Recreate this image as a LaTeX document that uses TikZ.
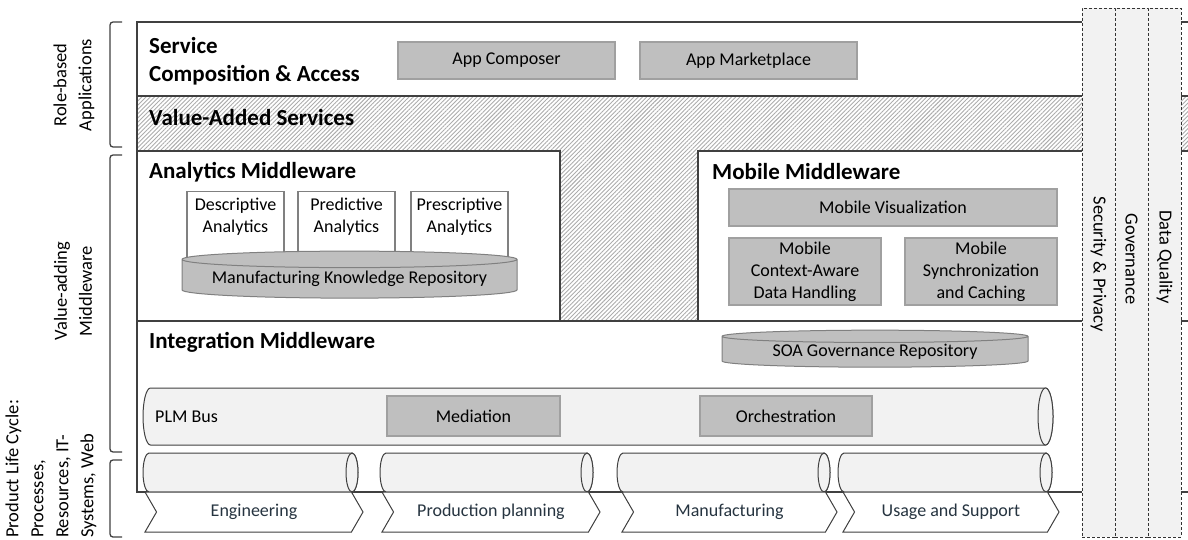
\documentclass[tikz,border=0pt]{standalone}
\usepackage{fontspec}
\setmainfont{Carlito}
\usetikzlibrary{shapes.geometric,shapes.symbols,patterns.meta,positioning}

\definecolor{boxgray}{RGB}{191,191,191}
\definecolor{boxedge}{RGB}{160,160,160}
\definecolor{pipegray}{RGB}{242,242,242}
\definecolor{linegray}{RGB}{64,64,64}
\definecolor{chevtext}{RGB}{38,52,64}

\newcommand\smalltxt{\fontsize{18}{22}\selectfont}
\newcommand\headtxt{\fontsize{23}{28}\selectfont\bfseries}
\newcommand\sidetxt{\fontsize{18.5}{25}\selectfont}

\tikzset{
  frame/.style={draw=linegray,line width=1.3pt},
  hatch/.style={fill=gray!18,pattern={Lines[angle=45,distance=3pt,line width=0.9pt]},pattern color=gray!65},
  graybox/.style={draw=boxedge,fill=boxgray,line width=1.1pt,font=\smalltxt,inner sep=0pt,align=center},
  whitebox/.style={draw=gray,fill=white,line width=1.1pt,inner sep=0pt},
  txt/.style={font=\smalltxt,align=center,inner sep=0pt},
  head/.style={font=\headtxt,anchor=west,align=left,inner sep=0pt},
  pipe/.style={draw=linegray,fill=pipegray,line width=1pt},
  repo/.style={cylinder,shape border rotate=90,draw=gray,fill=boxgray,line width=1pt,aspect=0.06,font=\smalltxt,inner sep=0pt},
  chev/.style={signal,signal from=west,signal to=east,signal pointer angle=120,draw=linegray,fill=white,line width=1pt,font=\smalltxt,text=chevtext,minimum height=40,inner sep=0pt},
  bar/.style={draw=black!80,densely dashed,fill=pipegray,line width=0.8pt,minimum width=33,minimum height=529,inner sep=0pt},
  side/.style={font=\sidetxt,rotate=90,align=center,inner sep=0pt},
  brack/.style={draw=linegray,line width=1.3pt,rounded corners=3pt}
}

\begin{document}
\begin{tikzpicture}[x=1pt,y=-1pt]
  \useasboundingbox (0,0) rectangle (1188,540);

  % layers
  \fill[hatch] (137,96) rectangle (1200,321);
  \fill[white] (137,22) rectangle (1200,96);
  \fill[white] (137,151) rectangle (560,321);
  \fill[white] (698,151) rectangle (1200,321);
  \draw[frame] (1200,22) -- (137,22) -- (137,492) -- (1200,492);
  \draw[frame] (137,96) -- (1200,96);
  \draw[frame] (137,151) -- (560,151) -- (560,321);
  \draw[frame] (1200,151) -- (698,151) -- (698,321);
  \draw[frame] (137,321) -- (1200,321);

  % service composition
  \node[head] (svc) at (149,61) {Service\\Composition \& Access};
  \node[graybox,minimum width=217,minimum height=37] (compose) at (506.5,60.5) {App Composer};
  \node[graybox,minimum width=217,minimum height=37] (market) at (748.5,60.5) {App Marketplace};
  \node[head] (vas) at (149,118) {Value-Added Services};

  % analytics
  \node[head] (ana) at (149,172) {Analytics Middleware};
  \node[whitebox,minimum width=97,minimum height=72,anchor=north] (desc) at (235.5,191) {};
  \node[whitebox,minimum width=97,minimum height=72,anchor=north] (pred) at (346.5,191) {};
  \node[whitebox,minimum width=97,minimum height=72,anchor=north] (presc) at (459.5,191) {};
  \node[txt,below=7pt of desc.north] (desct) {Descriptive\\Analytics};
  \node[txt,below=7pt of pred.north] (predt) {Predictive\\Analytics};
  \node[txt,below=7pt of presc.north] (presct) {Prescriptive\\Analytics};
  \node[repo,minimum width=335,minimum height=47] (mkr) at (349.5,279) {Manufacturing Knowledge Repository};

  % mobile
  \node[head] (mob) at (712,172) {Mobile Middleware};
  \node[graybox,minimum width=328,minimum height=37] (mvis) at (893,207.5) {Mobile Visualization};
  \node[graybox,minimum width=152,minimum height=67] (mctx) at (805,271.5) {Mobile\\Context-Aware\\Data Handling};
  \node[graybox,minimum width=152,minimum height=67] (msync) at (981,271.5) {Mobile\\Synchronization\\and Caching};

  % integration
  \node[head] (integ) at (149,342) {Integration Middleware};
  \node[repo,minimum width=306,minimum height=37] (soa) at (875,352) {SOA Governance Repository};
  \filldraw[pipe] (1045.5,388) -- (150.5,388) arc[start angle=270,end angle=90,x radius=7.5,y radius=28.5]
    -- (1045.5,445) arc[start angle=90,end angle=-90,x radius=7.5,y radius=28.5] -- cycle;
  \draw[pipe] (1045.5,416.5) ellipse[x radius=7.5,y radius=28.5];
  \node[txt,anchor=west] (plm) at (155,417) {PLM Bus};
  \node[graybox,minimum width=173,minimum height=40] (medi) at (473.5,416) {Mediation};
  \node[graybox,minimum width=172,minimum height=40] (orch) at (786,416) {Orchestration};

  % life cycle
  \foreach \xa/\xb in {143/358,380/593,617/830,838/1052} {
    \filldraw[pipe] (\xb-6,453) -- (\xa+6,453) arc[start angle=270,end angle=90,x radius=6,y radius=19.5]
      -- (\xb-6,492) arc[start angle=90,end angle=-90,x radius=6,y radius=19.5] -- cycle;
    \draw[pipe] (\xb-6,472.5) ellipse[x radius=6,y radius=19.5];
  }
  \foreach \n/\xa/\xb/\lbl in {eng/145/363/Engineering,ppl/382/600/Production planning,mfg/622/837/Manufacturing,use/843/1059/Usage and Support}
    \node[chev,minimum width=\xb-\xa] (\n) at ({(\xa+\xb)/2},512) {\lbl};

  % cross-cutting bars
  \node[bar] (sec) at (1098.5,272.5) {};
  \node[bar] (gov) at (1131.5,272.5) {};
  \node[bar] (dq) at (1164.5,272.5) {};
  \node[txt,font=\sidetxt,rotate=-90] (sect) at (1098.5,264) {Security \& Privacy};
  \node[txt,font=\sidetxt,rotate=-90] (govt) at (1131.5,259) {Governance};
  \node[txt,font=\sidetxt,rotate=-90] (dqt) at (1164.5,257) {Data Quality};

  % left brackets
  \draw[brack] (122,22) -- (110,22) -- (110,147) -- (122,147);
  \draw[brack] (122,155) -- (110,155) -- (110,452) -- (122,452);
  \draw[brack] (122,460) -- (110,460) -- (110,537) -- (122,537);
  \node[side] (role) at (74,85) {Role-based\\Applications};
  \node[side] (vam) at (73,291) {Value-adding\\Middleware};
  \node[side,align=left,anchor=west] (plc) at (51,538) {Product Life Cycle:\\Processes,\\Resources, IT-\\Systems, Web};
\end{tikzpicture}
\end{document}
